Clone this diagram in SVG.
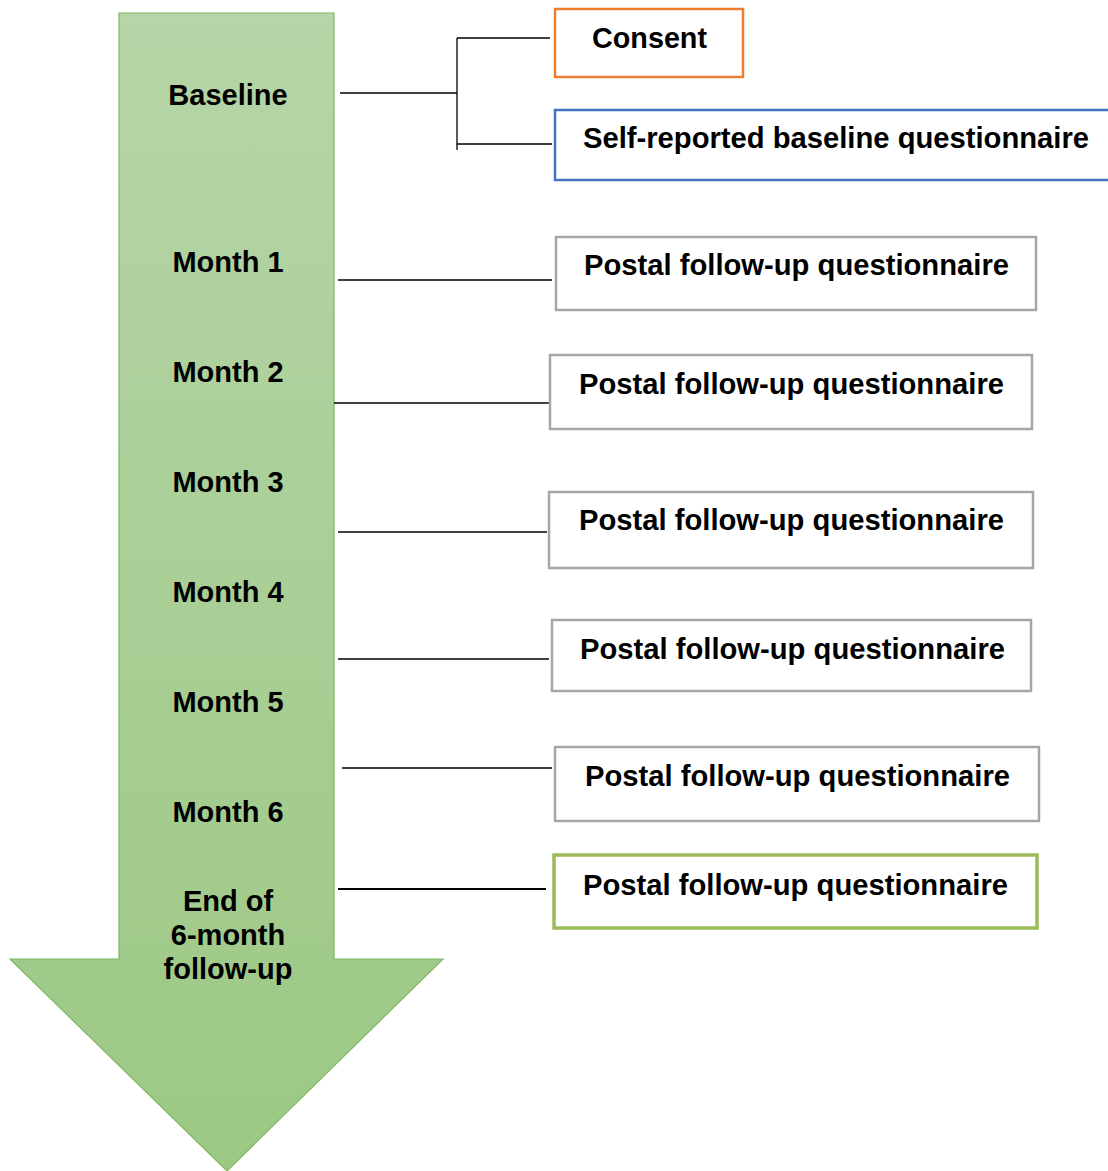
<svg xmlns="http://www.w3.org/2000/svg" width="1108" height="1171" viewBox="0 0 1108 1171">
  <defs>
    <linearGradient id="arrowFill" x1="0" y1="0" x2="0" y2="1">
      <stop offset="0" stop-color="#b6d5a8"/>
      <stop offset="1" stop-color="#9cc884"/>
    </linearGradient>
    <style>
      .lbl { font-family: "Liberation Sans", Arial, sans-serif; font-weight: bold; font-size: 29px; fill: #000; text-anchor: middle; }
      .btxt { font-family: "Liberation Sans", Arial, sans-serif; font-weight: bold; font-size: 29px; fill: #000; }
      .box { fill: #fff; stroke-width: 2.5; }
      .grey { stroke: #a6a6a6; }
      .conn line { stroke: #000; stroke-width: 1.3; }
    </style>
  </defs>
  <rect width="1108" height="1171" fill="#fff"/>

  <!-- timeline arrow -->
  <g id="timeline">
    <path d="M119,13 H334 V959 H443 L227,1171 L10,959 H119 Z" fill="url(#arrowFill)" stroke="#7fb861" stroke-width="1.2"/>
    <text class="lbl" x="228" y="105">Baseline</text>
    <text class="lbl" x="228" y="272">Month 1</text>
    <text class="lbl" x="228" y="382">Month 2</text>
    <text class="lbl" x="228" y="492">Month 3</text>
    <text class="lbl" x="228" y="602">Month 4</text>
    <text class="lbl" x="228" y="712">Month 5</text>
    <text class="lbl" x="228" y="822">Month 6</text>
    <text class="lbl" x="228" y="911">End of</text>
    <text class="lbl" x="228" y="945">6-month</text>
    <text class="lbl" x="228" y="979">follow-up</text>
  </g>

  <!-- connectors -->
  <g id="connectors" class="conn">
    <line x1="340" y1="93" x2="457" y2="93"/>
    <line x1="457" y1="38" x2="457" y2="150"/>
    <line x1="457" y1="38" x2="550" y2="38"/>
    <line x1="457" y1="144" x2="552" y2="144"/>
    <line x1="338" y1="280" x2="552" y2="280"/>
    <line x1="334" y1="403" x2="549" y2="403"/>
    <line x1="338" y1="532" x2="547" y2="532"/>
    <line x1="338" y1="659" x2="549" y2="659"/>
    <line x1="342" y1="768" x2="552" y2="768"/>
    <line x1="338" y1="889" x2="546" y2="889" style="stroke-width:2"/>
  </g>

  <g id="consent">
    <rect class="box" x="555" y="9" width="188" height="68" stroke="#ed7d31"/>
    <text class="btxt" x="592" y="48" textLength="115" lengthAdjust="spacingAndGlyphs">Consent</text>
  </g>

  <g id="baseline-questionnaire">
    <rect class="box" x="555" y="110" width="560" height="70" stroke="#4472c4"/>
    <text class="btxt" x="583" y="148" textLength="506" lengthAdjust="spacingAndGlyphs">Self-reported baseline questionnaire</text>
  </g>

  <g id="followup-1">
    <rect class="box grey" x="556" y="237" width="480" height="73"/>
    <text class="btxt" x="584" y="275" textLength="425" lengthAdjust="spacingAndGlyphs">Postal follow-up questionnaire</text>
  </g>

  <g id="followup-2">
    <rect class="box grey" x="550" y="355" width="482" height="74"/>
    <text class="btxt" x="579" y="394" textLength="425" lengthAdjust="spacingAndGlyphs">Postal follow-up questionnaire</text>
  </g>

  <g id="followup-3">
    <rect class="box grey" x="549" y="492" width="484" height="76"/>
    <text class="btxt" x="579" y="530" textLength="425" lengthAdjust="spacingAndGlyphs">Postal follow-up questionnaire</text>
  </g>

  <g id="followup-4">
    <rect class="box grey" x="552" y="620" width="479" height="71"/>
    <text class="btxt" x="580" y="659" textLength="425" lengthAdjust="spacingAndGlyphs">Postal follow-up questionnaire</text>
  </g>

  <g id="followup-5">
    <rect class="box grey" x="555" y="747" width="484" height="74"/>
    <text class="btxt" x="585" y="786" textLength="425" lengthAdjust="spacingAndGlyphs">Postal follow-up questionnaire</text>
  </g>

  <g id="followup-6">
    <rect class="box" x="554" y="855" width="483" height="73" stroke="#9bbb59" style="stroke-width:3.5"/>
    <text class="btxt" x="583" y="895" textLength="425" lengthAdjust="spacingAndGlyphs">Postal follow-up questionnaire</text>
  </g>
</svg>
